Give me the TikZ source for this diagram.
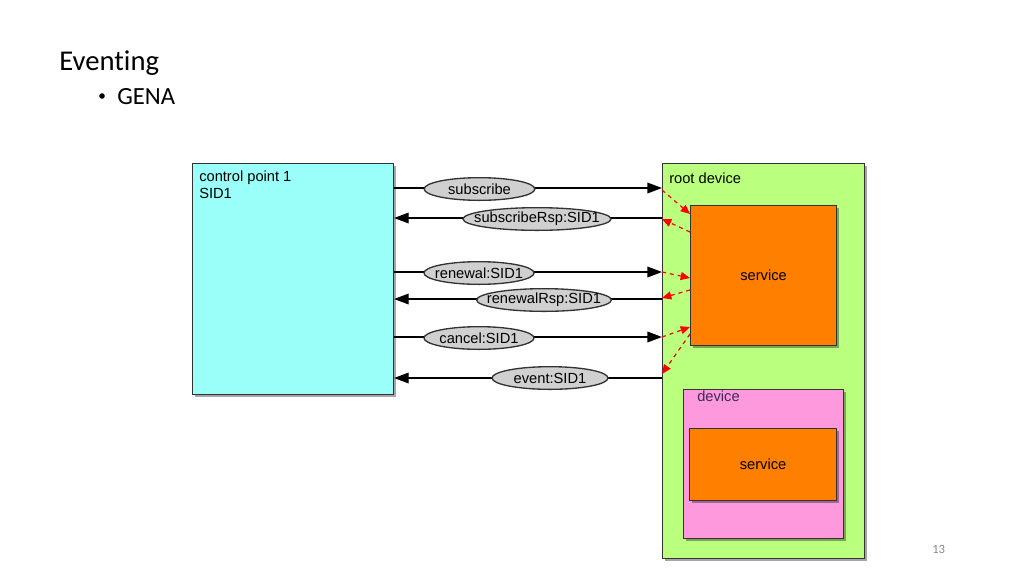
\documentclass[tikz,border=0pt]{standalone}
\usepackage{fontspec}
\setmainfont{Carlito}[Ligatures=NoCommon]
\newfontfamily\diagfont{Liberation Sans}
\usepackage{xcolor}
\usetikzlibrary{arrows.meta,shadows,shapes.geometric}

\definecolor{cpcyan}{HTML}{99FFF8}
\definecolor{rootgreen}{HTML}{BBFF7F}
\definecolor{srvorange}{HTML}{FF8000}
\definecolor{devpink}{HTML}{FF99DD}
\definecolor{msggray}{HTML}{D0D0D0}
\definecolor{boxline}{HTML}{333333}
\definecolor{pagegray}{HTML}{898989}
\definecolor{devnavy}{HTML}{3C2A5A}

\begin{document}
\begin{tikzpicture}[x=0.75pt,y=-0.75pt]
\tikzstyle{box}=[draw=boxline,line width=0.8pt,anchor=north west,inner sep=0pt,
  drop shadow={shadow xshift=1.8pt,shadow yshift=-1.8pt,fill=black,opacity=0.35}]
\tikzstyle{txt}=[inner sep=0pt,font=\diagfont\fontsize{11}{12.75}\selectfont,text=black]
\tikzstyle{msg}=[ellipse,draw=boxline,line width=1pt,fill=msggray,inner sep=0pt,
  minimum height=17pt,font=\diagfont\fontsize{11}{13}\selectfont]
\tikzstyle{call}=[line width=1.1pt,-{Triangle[length=11pt,width=8pt]}]
\tikzstyle{notify}=[red,line width=0.9pt,dashed,-{Triangle[length=7pt,width=6pt]}]
\useasboundingbox (0,0) rectangle (1024,576);

    % slide heading
    \node[anchor=base west,inner sep=0pt,font=\fontsize{21.5}{26}\selectfont] (title) at (59,70) {Eventing};
    \node[circle,fill=black,inner sep=0pt,minimum size=4.2pt] (bul) at (102,96) {};
    \node[anchor=base west,inner sep=0pt,font=\fontsize{18.5}{22}\selectfont] (gena) at (117,104) {GENA};
    \node[anchor=base west,inner sep=0pt,text=pagegray,font=\fontsize{9.5}{11}\selectfont] (page) at (932,553) {13};

    % boxes
    \node[box,fill=cpcyan,minimum width=150.75pt,minimum height=173.25pt] (cp) at (192,163) {};
    \node[box,fill=rootgreen,minimum width=151.5pt,minimum height=296.25pt] (root) at (662,163) {};
    \node[box,fill=srvorange,minimum width=109.5pt,minimum height=105pt] (srv) at (690,205) {};
    \node[box,fill=devpink,minimum width=120pt,minimum height=111.75pt] (dev) at (683,389) {};
    \node[box,fill=srvorange,minimum width=110.25pt,minimum height=54pt] (devsrv) at (689,428) {};

    \node[txt,anchor=north west,align=left] (cplbl) at (199,171) {control point 1\\SID1};
    \node[txt,anchor=north west] (rootlbl) at (669,173) {root device};
    \node[txt] (srvlbl) at (srv.center) {service};
    \node[txt,anchor=north west,text=devnavy] (devlbl) at (697,391) {device};
    \node[txt] (devsrvlbl) at (devsrv.center) {service};

    % messages
    \draw[call] (cp.east |- 0,188) -- (root.west |- 0,188);
    \draw[call] (root.west |- 0,218) -- (cp.east |- 0,218);
    \draw[call] (cp.east |- 0,272) -- (root.west |- 0,272);
    \draw[call] (root.west |- 0,299) -- (cp.east |- 0,299);
    \draw[call] (cp.east |- 0,337) -- (root.west |- 0,337);
    \draw[call] (root.west |- 0,378) -- (cp.east |- 0,378);

    \node[msg,minimum width=83pt] (sub) at (479.5,189) {\makebox[0pt]{subscribe}};
    \node[msg,minimum width=111pt] (subrsp) at (537,219) {\makebox[0pt]{subscribeRsp:SID1}};
    \node[msg,minimum width=82.5pt] (ren) at (479,273) {\makebox[0pt]{renewal:SID1}};
    \node[msg,minimum width=101pt] (renrsp) at (544,300) {\makebox[0pt]{renewalRsp:SID1}};
    \node[msg,minimum width=82.5pt] (can) at (479,338) {\makebox[0pt]{cancel:SID1}};
    \node[msg,minimum width=87pt] (evt) at (550,378) {\makebox[0pt]{event:SID1}};

    % forwarding inside the root device
    \draw[notify] (root.west |- 0,190) -- (srv.west |- 0,214);
    \draw[notify] (srv.west |- 0,232) -- (root.west |- 0,219);
    \draw[notify] (root.west |- 0,272) -- (srv.west |- 0,278);
    \draw[notify] (srv.west |- 0,290) -- (root.west |- 0,298);
    \draw[notify] (root.west |- 0,337) -- (srv.west |- 0,327);
    \draw[notify] (srv.west |- 0,334) -- (root.west |- 0,374);

\end{tikzpicture}
\end{document}
